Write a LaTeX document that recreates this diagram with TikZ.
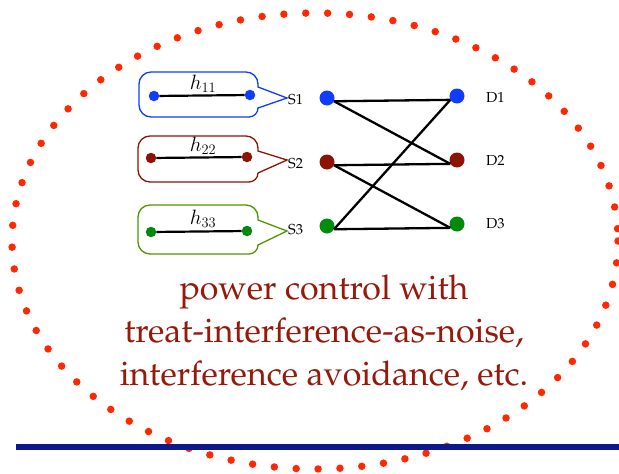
\documentclass[tikz,border=0pt]{standalone}
\usepackage[T1]{fontenc}
\definecolor{ellred}{RGB}{255,40,0}
\definecolor{navy}{RGB}{10,25,140}
\definecolor{cblue}{RGB}{15,60,255}
\definecolor{cred}{RGB}{140,20,5}
\definecolor{cgreen}{RGB}{0,140,10}
\definecolor{bgreen}{RGB}{80,150,0}
\definecolor{textred}{RGB}{150,25,10}
\newcommand{\pal}{\fontfamily{ppl}\selectfont}
\begin{document}
\begin{tikzpicture}[x=1pt,y=-1pt,
  bigdot/.style={circle, inner sep=0pt, minimum size=15pt},
  boxdot/.style={circle, inner sep=0pt, minimum size=10.5pt},
  edge/.style={line width=2.3pt, black},
  hline/.style={line width=2.2pt, black},
  lab/.style={font=\pal\fontsize{14.5}{16}\selectfont, inner sep=1pt},
  hlab/.style={font=\fontsize{21}{23}\selectfont, inner sep=0pt},
  callout/.style={line width=1.3pt}]
\useasboundingbox (0,0) rectangle (619,474);
% dotted ellipse
\draw[ellred, line width=7.5pt, line cap=round, dash pattern=on 0pt off 21.9pt]
  (315,241) ellipse [x radius=303, y radius=228];
% bottom rule
\draw[navy, line width=6.5pt] (16,447) -- (619,447);

% callout boxes
\newcommand{\mycallout}[5]{% left, top, bottom, tipy, colour
  \draw[callout, #5] (#1+12,#2) -- (246,#2) arc[start angle=-90, end angle=0, radius=12]
    -- (258,#2+15) -- (287,#4) -- (258,#3-9) arc[start angle=0, end angle=90, radius=9]
    -- (#1+12,#3) arc[start angle=90, end angle=180, radius=12]
    -- (#1,#2+12) arc[start angle=180, end angle=270, radius=12] -- cycle;}
\mycallout{139}{72}{117}{98}{cblue}
\mycallout{138}{136}{182}{160}{cred}
\mycallout{138}{205}{254}{231}{bgreen}

% dots inside boxes
\node[boxdot, fill=cblue] (a1) at (154,96) {};
\node[boxdot, fill=cblue] (b1) at (250,95) {};
\node[boxdot, fill=cred] (a2) at (151,158) {};
\node[boxdot, fill=cred] (b2) at (247,157) {};
\node[boxdot, fill=cgreen] (a3) at (151,232) {};
\node[boxdot, fill=cgreen] (b3) at (247,231) {};
\draw[hline] (a1) -- (b1);
\draw[hline] (a2) -- (b2);
\draw[hline] (a3) -- (b3);
\node[hlab] (h1) at (203,84) {$h_{11}$};
\node[hlab] (h2) at (203,146) {$h_{22}$};
\node[hlab] (h3) at (203,219) {$h_{33}$};

% labels
\node[lab, anchor=west] (ls1) at (287,100) {S1};
\node[lab, anchor=west] (ls2) at (287,164) {S2};
\node[lab, anchor=west] (ls3) at (287,230) {S3};
\node[lab, anchor=west] (ld1) at (485,97) {D1};
\node[lab, anchor=west] (ld2) at (485,160) {D2};
\node[lab, anchor=west] (ld3) at (485,224) {D3};

% bipartite graph
\node[bigdot, fill=cblue] (s1) at (327,98) {};
\node[bigdot, fill=cred] (s2) at (327,162) {};
\node[bigdot, fill=cgreen] (s3) at (327,226) {};
\node[bigdot, fill=cblue] (d1) at (457,96) {};
\node[bigdot, fill=cred] (d2) at (457,160) {};
\node[bigdot, fill=cgreen] (d3) at (457,224) {};
\draw[edge] (s1.-25) -- (d1.210);
\draw[edge] (s1.-25) -- (d2.210);
\draw[edge] (s2.-25) -- (d2.210);
\draw[edge] (s2.-25) -- (d3.210);
\draw[edge] (s3.-25) -- (d3.210);
\draw[edge] (s3.-25) -- (d1.210);

% caption
\node[text=textred, font=\pal\fontsize{34}{43}\selectfont, align=center] (cap) at (324,333)
  {power control with\\treat-interference-as-noise,\\interference avoidance, etc.};
\end{tikzpicture}
\end{document}
